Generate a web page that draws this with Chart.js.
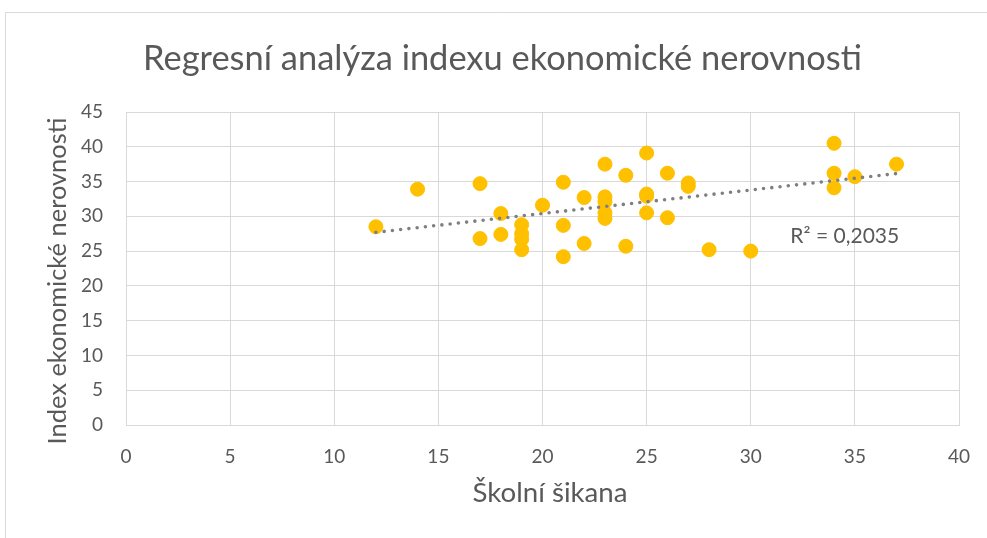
<!DOCTYPE html>
<html>
<head>
<meta charset="utf-8">
<script src="https://cdn.jsdelivr.net/npm/chart.js@4/dist/chart.umd.min.js"></script>
<style>
  body { margin: 0; background: #fff; }
  canvas { display: block; }
</style>
</head>
<body>
<canvas id="chart" width="987" height="538"></canvas>
<script>
// data
const skolniSikana = [12, 14, 17, 17, 18, 18, 19, 19, 19, 19, 20, 21, 21, 21, 22, 22,
  23, 23, 23, 23, 23, 24, 24, 25, 25, 25, 25, 26, 26, 27, 27, 28, 30, 34, 34, 34, 35, 37];
const indexNerovnosti = [28.5, 33.9, 34.7, 26.8, 30.4, 27.4, 28.8, 27.5, 26.7, 25.2, 31.6, 34.9, 28.7, 24.2, 32.7, 26.1,
  37.5, 32.8, 32.1, 30.5, 29.7, 35.9, 25.7, 39.1, 33.2, 32.9, 30.5, 36.2, 29.8, 34.8, 34.3, 25.2, 25.0, 40.5, 36.2, 34.1, 35.7, 37.5];
const trendX = [12, 37];
const trendY = [27.7, 36.15];
const xTicks = { min: 0, max: 40, step: 5 };
const yTicks = { min: 0, max: 45, step: 5 };

const titleText = 'Regresní analýza indexu ekonomické nerovnosti';
const xTitle = 'Školní šikana';
const yTitle = 'Index ekonomické nerovnosti';
const r2Text = 'R² = 0,2035';

const FONT = 'Lato';
const TEXT = '#595959';
const GRID = '#d9d9d9';

// pick font sizes so texts get the same width as in the reference
const measure = document.createElement('canvas').getContext('2d');
function fitSize(text, width) {
  measure.font = '100px ' + FONT;
  return 100 * width / measure.measureText(text).width;
}
const titleSize = fitSize(titleText, 719);
const xTitleSize = fitSize(xTitle, 155);
const yTitleSize = fitSize(yTitle, 327);
const r2Size = fitSize(r2Text, 109);

const points = skolniSikana.map((x, i) => ({ x: x, y: indexNerovnosti[i] }));
const trend = trendX.map((x, i) => ({ x: x, y: trendY[i] }));

const framePlugin = {
  id: 'frame',
  beforeDraw(chart) {
    const ctx = chart.ctx;
    ctx.save();
    ctx.fillStyle = '#fff';
    ctx.fillRect(0, 0, chart.width, chart.height);
    ctx.strokeStyle = GRID;
    ctx.lineWidth = 1;
    ctx.beginPath();
    ctx.moveTo(5.5, chart.height);
    ctx.lineTo(5.5, 12.5);
    ctx.lineTo(chart.width, 12.5);
    ctx.stroke();
    ctx.restore();
  }
};

const textPlugin = {
  id: 'texts',
  afterDraw(chart) {
    const ctx = chart.ctx;
    const xs = chart.scales.x, ys = chart.scales.y;
    ctx.save();
    ctx.fillStyle = TEXT;
    ctx.textBaseline = 'middle';
    ctx.textAlign = 'center';

    ctx.font = xTitleSize + 'px ' + FONT;
    ctx.fillText(xTitle, 550, 493);

    ctx.save();
    ctx.translate(58, 281);
    ctx.rotate(-Math.PI / 2);
    ctx.font = yTitleSize + 'px ' + FONT;
    ctx.fillText(yTitle, 0, 0);
    ctx.restore();

    ctx.textAlign = 'left';
    ctx.font = r2Size + 'px ' + FONT;
    ctx.fillText(r2Text, xs.getPixelForValue(31.9), ys.getPixelForValue(27.2));
    ctx.restore();
  }
};

const titleTop = 59 - titleSize * 0.6;

new Chart(document.getElementById('chart'), {
  type: 'scatter',
  data: {
    datasets: [{
      label: 'trend',
      data: trend,
      showLine: true,
      borderColor: '#7f7f7f',
      borderWidth: 3.6,
      borderDash: [0, 8.3],
      borderCapStyle: 'round',
      pointRadius: 0,
      fill: false
    }, {
      label: 'data',
      data: points,
      backgroundColor: '#ffc000',
      borderColor: '#ffc000',
      borderWidth: 1,
      pointRadius: 7
    }]
  },
  options: {
    responsive: false,
    animation: false,
    layout: { padding: { left: 46, right: 28, top: 0, bottom: 0 } },
    plugins: {
      legend: { display: false },
      tooltip: { enabled: false },
      title: {
        display: true,
        text: titleText,
        color: TEXT,
        font: { family: FONT, size: titleSize, weight: 'normal', lineHeight: 1.2 },
        padding: { top: titleTop, bottom: 112 - titleTop - titleSize * 1.2 }
      }
    },
    scales: {
      x: {
        type: 'linear',
        min: xTicks.min,
        max: xTicks.max,
        // tick padding also widens the right margin, so the gap under the axis comes from lineHeight
        ticks: { stepSize: xTicks.step, padding: 0, color: TEXT, font: { family: FONT, size: 19, lineHeight: 3.4 } },
        grid: { color: GRID, drawTicks: false },
        border: { color: GRID },
        afterFit: s => { s.height = 113; }
      },
      y: {
        type: 'linear',
        min: yTicks.min,
        max: yTicks.max,
        ticks: { stepSize: yTicks.step, padding: 23, color: TEXT, font: { family: FONT, size: 19 } },
        grid: { color: GRID, drawTicks: false },
        border: { color: GRID },
        afterFit: s => { s.width = 80; }
      }
    }
  },
  plugins: [framePlugin, textPlugin]
});
</script>
</body>
</html>
